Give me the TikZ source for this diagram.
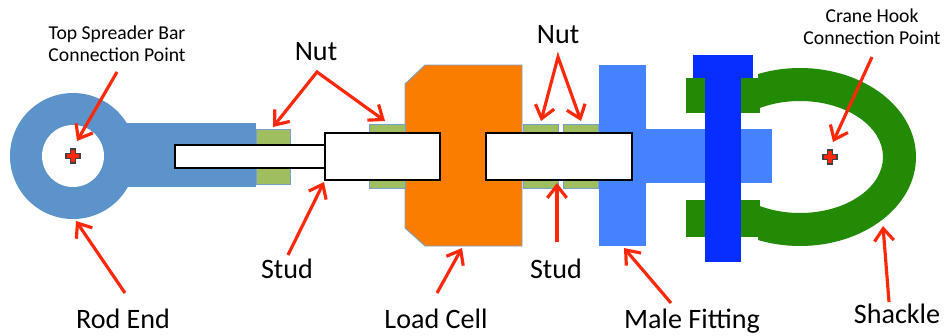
\documentclass[tikz,border=0pt]{standalone}
\usepackage{fontspec}
\setmainfont{Carlito}
\usetikzlibrary{arrows.meta}

\definecolor{rodblue}{RGB}{92,147,202}
\definecolor{nutgreen}{RGB}{158,190,96}
\definecolor{nutedge}{RGB}{120,160,205}
\definecolor{cellorange}{RGB}{250,125,0}
\definecolor{fitblue}{RGB}{68,130,255}
\definecolor{pinblue}{RGB}{8,45,255}
\definecolor{shacklegreen}{RGB}{34,138,4}
\definecolor{callred}{RGB}{255,40,10}

\tikzset{
  nutbox/.style={fill=nutgreen, draw=nutedge, line width=0.5pt},
  studbox/.style={fill=white, draw=black, line width=0.8pt},
  callout/.style={draw=callred, line width=1.8pt,
    -{Straight Barb[length=7pt,width=11pt,line width=1.8pt]}},
  callout2/.style={draw=callred, line width=1.8pt,
    {Straight Barb[length=7pt,width=11pt,line width=1.8pt]}-{Straight Barb[length=7pt,width=11pt,line width=1.8pt]}},
  biglabel/.style={font=\fontsize{16}{19}\selectfont, inner sep=0pt, anchor=base},
  smalllabel/.style={font=\fontsize{11.2}{12.6}\selectfont, align=center, inner sep=0pt},
  crossmark/.style={fill=callred, draw=black!75, line width=0.6pt}
}

% plus-shaped marker centred on a point (in picture units)
\newcommand{\crossat}[2]{%
  \filldraw[crossmark] (#1-7,#2-2.5) -- (#1-2.5,#2-2.5) -- (#1-2.5,#2-7) -- (#1+2.5,#2-7)
    -- (#1+2.5,#2-2.5) -- (#1+7,#2-2.5) -- (#1+7,#2+2.5) -- (#1+2.5,#2+2.5)
    -- (#1+2.5,#2+7) -- (#1-2.5,#2+7) -- (#1-2.5,#2+2.5) -- (#1-7,#2+2.5) -- cycle;}

\begin{document}
\begin{tikzpicture}[x=0.02cm, y=-0.02cm]
\useasboundingbox (0,0) rectangle (946,335);
\fill[white] (0,0) rectangle (946,335);

% ---------- rod end ----------
\fill[rodblue] (73,156) circle [radius=63];
\fill[rodblue] (120,123) rectangle (256,187);
\fill[white] (73,156) circle [radius=31];

% ---------- load cell ----------
\filldraw[fill=cellorange, draw=nutedge, line width=0.5pt]
  (405,84) -- (425,65) -- (522,65) -- (522,246) -- (425,246) -- (405,228) -- cycle;

% ---------- nuts ----------
\filldraw[nutbox] (256,129) rectangle (290,184);
\filldraw[nutbox] (369,124) rectangle (405,188);
\filldraw[nutbox] (523,124) rectangle (558,188);
\filldraw[nutbox] (563,124) rectangle (598,188);

% ---------- male fitting ----------
\fill[fitblue] (599,65) rectangle (646,246);
\fill[fitblue] (646,129) rectangle (772,183);

% ---------- studs ----------
\filldraw[studbox] (175,145) rectangle (325,168);
\filldraw[studbox] (325,133) rectangle (440,180);
\filldraw[studbox] (486,133) rectangle (632,180);

% ---------- shackle ----------
\begin{scope}
  \clip (758,0) rectangle (946,335);
  \fill[shacklegreen, even odd rule]
    (800,157) ellipse [x radius=116, y radius=89]
    (800,157) ellipse [x radius=83, y radius=56];
\end{scope}
\fill[shacklegreen] (686,78) rectangle (760,113);
\fill[shacklegreen] (686,200) rectangle (760,237);
\fill[fitblue] (740,129) rectangle (772,183);
% pin
\fill[pinblue] (693,55) rectangle (753,78);
\fill[pinblue] (705,55) rectangle (741,262);

% ---------- connection points ----------
\crossat{73}{156}
\crossat{830}{157}

% ---------- labels ----------
\node[smalllabel] (topbar) at (117,44) {Top Spreader Bar\\Connection Point};
\node[smalllabel] (crane) at (872,27) {Crane Hook\\Connection Point};
\node[biglabel] (nutL) at (316,60) {Nut};
\node[biglabel] (nutR) at (558,43) {Nut};
\node[biglabel] (studL) at (287,278) {Stud};
\node[biglabel] (studR) at (556,278) {Stud};
\node[biglabel] (rodend) at (123,328) {Rod End};
\node[biglabel] (loadcell) at (436,328) {Load Cell};
\node[biglabel] (malefit) at (692,328) {Male Fitting};
\node[biglabel] (shackle) at (897,323) {Shackle};

% ---------- callout ends ----------
\coordinate (tTop) at (77,141);
\coordinate (sTop) at (117,72);
\coordinate (tRod) at (76,221);
\coordinate (sRod) at (125,293);
\coordinate (aNutL) at (317,72);
\coordinate (tNutL1) at (273,127);
\coordinate (tNutL2) at (385,121);
\coordinate (sStudL) at (288,255);
\coordinate (tStudL) at (324,182);
\coordinate (sCell) at (437,293);
\coordinate (tCell) at (462,248);
\coordinate (aNutR) at (558,57);
\coordinate (tNutR1) at (541,121);
\coordinate (tNutR2) at (581,121);
\coordinate (sStudR) at (557,242);
\coordinate (tStudR) at (557,183);
\coordinate (sMale) at (671,303);
\coordinate (tMale) at (624,248);
\coordinate (sCrane) at (872,57);
\coordinate (tCrane) at (833,142);
\coordinate (sShackle) at (889,302);
\coordinate (tShackle) at (883,226);

% ---------- callouts ----------
\draw[callout] (sTop) -- (tTop);
\draw[callout] (sRod) -- (tRod);
\draw[callout2] (tNutL1) -- (aNutL) -- (tNutL2);
\draw[callout] (sStudL) -- (tStudL);
\draw[callout] (sCell) -- (tCell);
\draw[callout2] (tNutR1) -- (aNutR) -- (tNutR2);
\draw[callout] (sStudR) -- (tStudR);
\draw[callout] (sMale) -- (tMale);
\draw[callout] (sCrane) -- (tCrane);
\draw[callout] (sShackle) -- (tShackle);
\end{tikzpicture}
\end{document}
